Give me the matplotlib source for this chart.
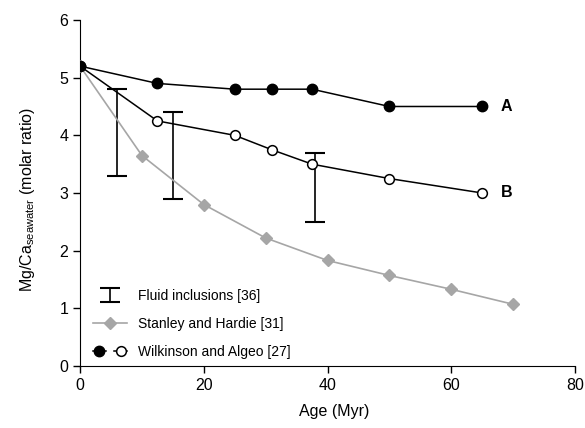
import matplotlib
matplotlib.use("Agg")
import matplotlib.pyplot as plt
from matplotlib.legend_handler import HandlerTuple

plt.rcParams['font.family'] = ['Liberation Sans', 'DejaVu Sans']
plt.rcParams['mathtext.fontset'] = 'custom'
plt.rcParams['mathtext.rm'] = 'Liberation Sans'

# Wilkinson and Algeo, curve A (filled) and B (open)
age_wa = [0, 12.5, 25, 31, 37.5, 50, 65]
mgca_a = [5.2, 4.9, 4.8, 4.8, 4.8, 4.5, 4.5]
mgca_b = [5.2, 4.25, 4.0, 3.75, 3.5, 3.25, 3.0]

# Stanley and Hardie
age_sh = [0, 10, 20, 30, 40, 50, 60, 70]
mgca_sh = [5.2, 3.65, 2.8, 2.22, 1.83, 1.57, 1.33, 1.07]

# Fluid inclusions (ranges)
age_fi = [6, 15, 38]
fi_low = [3.3, 2.9, 2.5]
fi_high = [4.8, 4.4, 3.7]

fig = plt.figure(figsize=(5.85, 4.28), dpi=100)
ax = fig.add_axes([0.1368, 0.1449, 0.8461, 0.8084])

fi_mid = [(lo + hi) / 2 for lo, hi in zip(fi_low, fi_high)]
fi_err = [[m - lo for m, lo in zip(fi_mid, fi_low)],
          [hi - m for m, hi in zip(fi_mid, fi_high)]]
eb = ax.errorbar(age_fi, fi_mid, yerr=fi_err, fmt='none', ecolor='black',
                 elinewidth=1.2, capsize=7, capthick=1.5, zorder=2)

sh, = ax.plot(age_sh, mgca_sh, color='#a6a6a6', lw=1.2, marker='D',
              ms=6, mfc='#a6a6a6', mec='#a6a6a6', zorder=3)
lb, = ax.plot(age_wa, mgca_b, color='black', lw=1.1, marker='o', ms=7,
              mfc='white', mec='black', mew=1.1, zorder=4)
la, = ax.plot(age_wa, mgca_a, color='black', lw=1.1, marker='o', ms=7.5,
              mfc='black', mec='black', zorder=5)

ax.text(68, 4.5, 'A', fontsize=11.5, fontweight='bold', va='center')
ax.text(68, 3.0, 'B', fontsize=11.5, fontweight='bold', va='center')

ax.set_xlim(0, 80)
ax.set_ylim(0, 6)
ax.set_xticks([0, 20, 40, 60, 80])
ax.set_yticks([0, 1, 2, 3, 4, 5, 6])
ax.spines['top'].set_visible(False)
ax.spines['right'].set_visible(False)
ax.tick_params(direction='out', length=5, width=1, labelsize=11.5)
ax.set_xlabel('Age (Myr)', fontsize=11.5, labelpad=8, x=0.513)
ax.set_ylabel(r'Mg/Ca$_{\mathrm{seawater}}$ (molar ratio)', fontsize=11.5,
              labelpad=16, y=0.48)

ax.legend([eb, sh, (la, lb)],
          ['Fluid inclusions [36]', 'Stanley and Hardie [31]',
           'Wilkinson and Algeo [27]'],
          handler_map={tuple: HandlerTuple(ndivide=None, pad=0.6)},
          loc='lower left', bbox_to_anchor=(0.0, -0.015), frameon=False,
          fontsize=10, handlelength=2.5, labelspacing=1.0)

fig.savefig('out.png', dpi=100)
